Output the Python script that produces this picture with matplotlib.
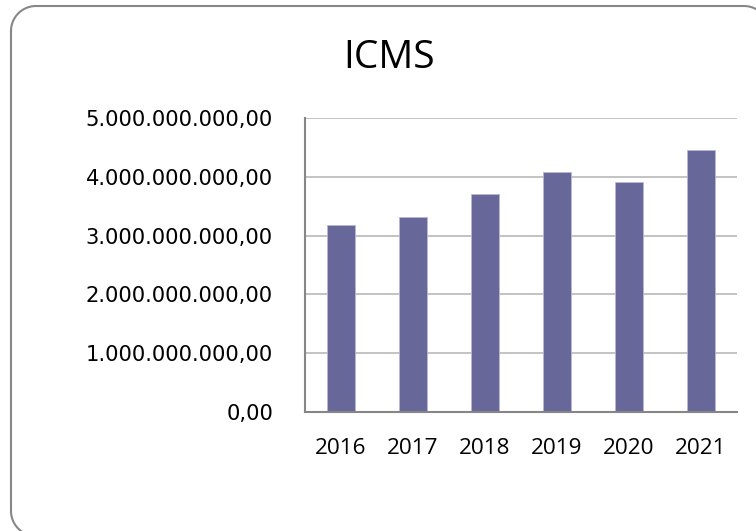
import numpy as np
import matplotlib
matplotlib.use('Agg')
import matplotlib.pyplot as plt
import matplotlib.ticker as mticker

# ICMS collected per year
years = ['2016', '2017', '2018', '2019', '2020', '2021']
icms = [3.175e9, 3.32e9, 3.70e9, 4.09e9, 3.92e9, 4.45e9]
y_ticks = [0, 1e9, 2e9, 3e9, 4e9, 5e9]


def br_format(v, pos):
    # 1234567.5 -> 1.234.567,50
    s = f'{v:,.2f}'
    return s.replace(',', 'X').replace('.', ',').replace('X', '.')


def rounded_box(x0, y0, x1, y1, r, n=20):
    # outline of a rounded rectangle as straight segments (y grows downwards)
    pts = []
    corners = [(x0 + r, y0 + r, 180, 270), (x1 - r, y0 + r, 270, 360),
               (x1 - r, y1 - r, 0, 90), (x0 + r, y1 - r, 90, 180)]
    for cx, cy, a0, a1 in corners:
        t = np.radians(np.linspace(a0, a1, n))
        pts += list(zip(cx + r * np.cos(t), cy + r * np.sin(t)))
    pts.append(pts[0])
    return np.array(pts)


fig = plt.figure(figsize=(7.56, 5.31), dpi=100)

# background axes in pixel units, only for the rounded chart border
bg = fig.add_axes([0, 0, 1, 1], zorder=-1)
bg.set_xlim(0, 756)
bg.set_ylim(531, 0)
bg.axis('off')
box = rounded_box(11, 6, 769, 536, 25)
bg.plot(box[:, 0], box[:, 1], color='#878787', linewidth=1.5)

ax = fig.add_axes([305 / 756, 119 / 531, 432 / 756, 294 / 531])
ax.set_facecolor('none')

x = range(len(years))
ax.bar(x, icms, width=0.4, color='#67679a', edgecolor='#b9b7d9',
       linewidth=0.6, zorder=3)

ax.set_xlim(-0.5, len(years) - 0.5)
ax.set_ylim(0, 5e9)
ax.set_yticks(y_ticks)
ax.yaxis.set_major_formatter(mticker.FuncFormatter(br_format))
ax.set_xticks(list(x))
ax.set_xticklabels(years)

ax.grid(axis='y', color='#b3b3b3', linewidth=1.1, zorder=1)
ax.set_axisbelow(True)
for side in ['top', 'right']:
    ax.spines[side].set_visible(False)
for side in ['left', 'bottom']:
    ax.spines[side].set_color('#868686')
    ax.spines[side].set_linewidth(1.5)
    ax.spines[side].set_zorder(4)

ax.tick_params(axis='y', length=0, pad=23)
ax.tick_params(axis='x', length=0, pad=18.5)
for lbl in ax.get_yticklabels():
    lbl.set_fontfamily('DejaVu Sans')
    lbl.set_fontsize(15.2)
    lbl.set_color('black')
for lbl in ax.get_xticklabels():
    lbl.set_fontfamily('Open Sans')
    lbl.set_fontsize(16.2)
    lbl.set_color('black')

fig.text(389 / 756, (531 - 68.3) / 531, 'ICMS', ha='center', va='baseline',
         fontsize=28, family='Open Sans', color='black')

fig.savefig('out.png', dpi=100)
